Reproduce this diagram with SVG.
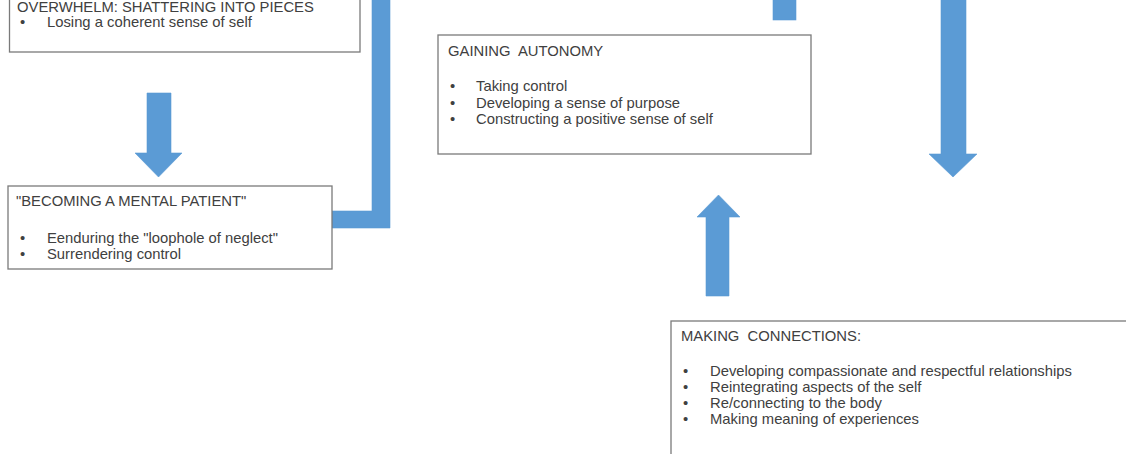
<svg xmlns="http://www.w3.org/2000/svg" width="1126" height="454" viewBox="0 0 1126 454">
<style>
.box{fill:#fff;stroke:#7a7a7a;stroke-width:1.3}
.t{font-family:"Liberation Sans",Arial,sans-serif;font-size:14.8px;fill:#404040}
.sp{white-space:pre}
.arr{fill:#5b9bd5;stroke:#5b9bd5;stroke-width:0.6}
</style>
<rect width="1126" height="454" fill="#fff"/>
<g id="connectors">
<polygon class="arr" points="147,93 171,93 171,153 182,153 158.5,177 135,153 147,153"/>
<polygon class="arr" points="331,211 372,211 372,-10 390,-10 390,228 331,228"/>
<rect class="arr" x="773" y="-10" width="23" height="30"/>
<polygon class="arr" points="941,-10 966,-10 966,154 977,154 953,177 929,154 941,154"/>
<polygon class="arr" points="706,296 729,296 729,217 740,217 718.5,195 697,217 706,217"/>
</g>
<g id="overwhelm">
<rect class="box" x="9.5" y="-20" width="350.5" height="72"/>
<text class="t" x="17" y="12">OVERWHELM: SHATTERING INTO PIECES</text>
<text class="t" x="20" y="27">•</text>
<text class="t" x="47" y="27">Losing a coherent sense of self</text>
</g>
<g id="becoming">
<rect class="box" x="8" y="186" width="324" height="83"/>
<text class="t" x="16" y="205.5">"BECOMING A MENTAL PATIENT"</text>
<text class="t" x="20" y="242.5">•</text>
<text class="t" x="47" y="242.5">Eenduring the "loophole of neglect"</text>
<text class="t" x="20" y="258.5">•</text>
<text class="t" x="47" y="258.5">Surrendering control</text>
</g>
<g id="autonomy">
<rect class="box" x="438" y="35" width="373" height="119"/>
<text class="t sp" x="448" y="55.5">GAINING  AUTONOMY</text>
<text class="t" x="450" y="91">•</text>
<text class="t" x="476" y="91">Taking control</text>
<text class="t" x="450" y="107.5">•</text>
<text class="t" x="476" y="107.5">Developing a sense of purpose</text>
<text class="t" x="450" y="124">•</text>
<text class="t" x="476" y="124">Constructing a positive sense of self</text>
</g>
<g id="connections">
<rect class="box" x="671" y="321" width="470" height="150"/>
<text class="t sp" x="681" y="340.5">MAKING  CONNECTIONS:</text>
<text class="t" x="683" y="375.5">•</text>
<text class="t" x="710" y="375.5">Developing compassionate and respectful relationships</text>
<text class="t" x="683" y="391.5">•</text>
<text class="t" x="710" y="391.5">Reintegrating aspects of the self</text>
<text class="t" x="683" y="407.5">•</text>
<text class="t" x="710" y="407.5">Re/connecting to the body</text>
<text class="t" x="683" y="423.5">•</text>
<text class="t" x="710" y="423.5">Making meaning of experiences</text>
</g>
</svg>
